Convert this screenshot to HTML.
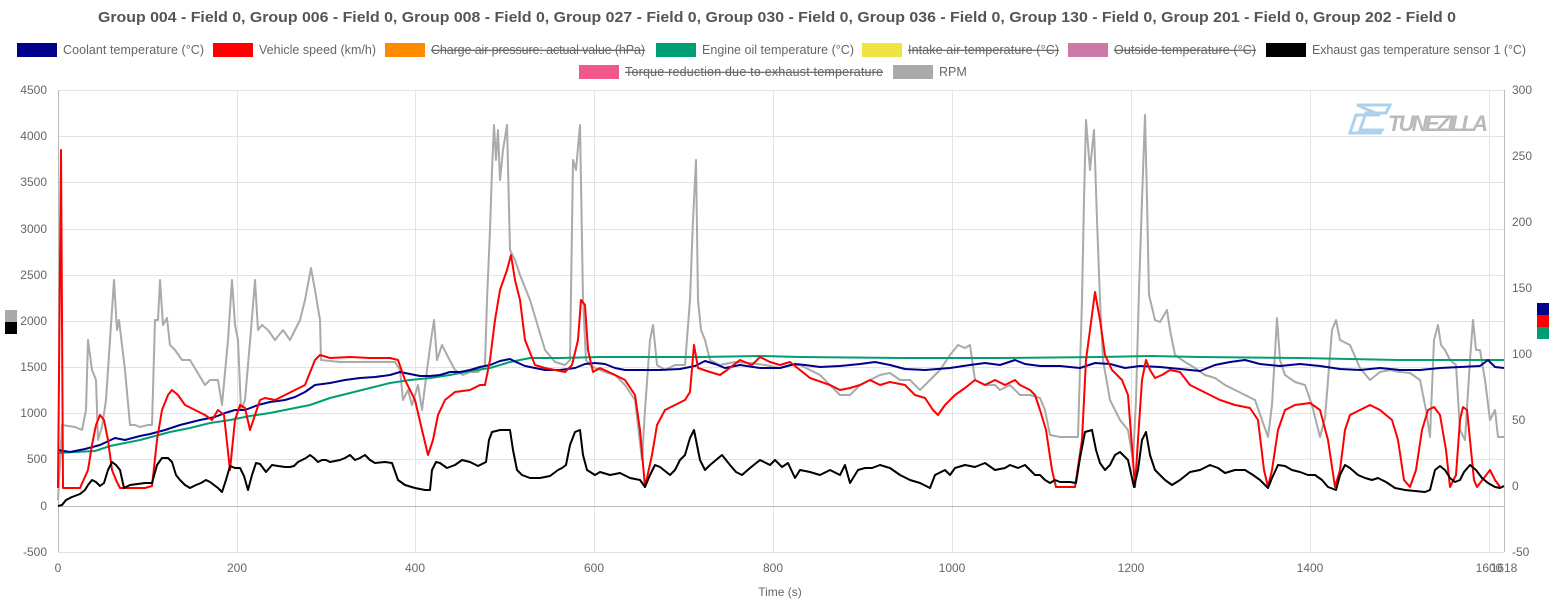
<!DOCTYPE html>
<html><head><meta charset="utf-8"><style>
body{margin:0;background:#fff;width:1554px;height:600px;overflow:hidden;font-family:"Liberation Sans",sans-serif}
</style></head><body>
<svg width="1554" height="600" xmlns="http://www.w3.org/2000/svg" font-family="Liberation Sans, sans-serif">
<text x="777" y="22" text-anchor="middle" font-size="15" font-weight="bold" fill="#555" textLength="1358" lengthAdjust="spacingAndGlyphs">Group 004 - Field 0, Group 006 - Field 0, Group 008 - Field 0, Group 027 - Field 0, Group 030 - Field 0, Group 036 - Field 0, Group 130 - Field 0, Group 201 - Field 0, Group 202 - Field 0</text>
<g font-size="12.5" fill="#666">
<rect x="17" y="43" width="40" height="14" fill="#00008b"/><text x="63" y="54" textLength="141">Coolant temperature (°C)</text>
<rect x="213" y="43" width="40" height="14" fill="#ff0000"/><text x="259" y="54" textLength="117">Vehicle speed (km/h)</text>
<rect x="385" y="43" width="40" height="14" fill="#ff8c00"/><text x="431" y="54" textLength="214" text-decoration="line-through">Charge air pressure: actual value (hPa)</text>
<rect x="656" y="43" width="40" height="14" fill="#009e73"/><text x="702" y="54" textLength="152">Engine oil temperature (°C)</text>
<rect x="862" y="43" width="40" height="14" fill="#f0e442"/><text x="908" y="54" textLength="151" text-decoration="line-through">Intake air temperature (°C)</text>
<rect x="1068" y="43" width="40" height="14" fill="#cc79a7"/><text x="1114" y="54" textLength="142" text-decoration="line-through">Outside temperature (°C)</text>
<rect x="1266" y="43" width="40" height="14" fill="#000"/><text x="1312" y="54" textLength="214">Exhaust gas temperature sensor 1 (°C)</text>
<rect x="579" y="65" width="40" height="14" fill="#f0578a"/><text x="625" y="76" textLength="258" text-decoration="line-through">Torque reduction due to exhaust temperature</text>
<rect x="893" y="65" width="40" height="14" fill="#aaa"/><text x="939" y="76">RPM</text>
</g>
<g stroke="#e3e3e3" stroke-width="1">
<line x1="58" y1="90.5" x2="1504" y2="90.5"/><line x1="58" y1="136.5" x2="1504" y2="136.5"/><line x1="58" y1="182.5" x2="1504" y2="182.5"/><line x1="58" y1="229.5" x2="1504" y2="229.5"/><line x1="58" y1="275.5" x2="1504" y2="275.5"/><line x1="58" y1="321.5" x2="1504" y2="321.5"/><line x1="58" y1="367.5" x2="1504" y2="367.5"/><line x1="58" y1="413.5" x2="1504" y2="413.5"/><line x1="58" y1="459.5" x2="1504" y2="459.5"/><line x1="58" y1="552.5" x2="1504" y2="552.5"/>
<line x1="237.5" y1="90" x2="237.5" y2="552"/><line x1="415.5" y1="90" x2="415.5" y2="552"/><line x1="594.5" y1="90" x2="594.5" y2="552"/><line x1="773.5" y1="90" x2="773.5" y2="552"/><line x1="952.5" y1="90" x2="952.5" y2="552"/><line x1="1131.5" y1="90" x2="1131.5" y2="552"/><line x1="1310.5" y1="90" x2="1310.5" y2="552"/><line x1="1489.5" y1="90" x2="1489.5" y2="552"/>
</g>
<line x1="58" y1="506.5" x2="1504" y2="506.5" stroke="#bbb"/>
<line x1="58.5" y1="90" x2="58.5" y2="552" stroke="#bbb"/><line x1="1504.5" y1="90" x2="1504.5" y2="552" stroke="#bbb"/>
<g font-size="12" fill="#666" text-anchor="end">
<text x="47" y="94">4500</text><text x="47" y="140">4000</text><text x="47" y="186">3500</text><text x="47" y="233">3000</text><text x="47" y="279">2500</text><text x="47" y="325">2000</text><text x="47" y="371">1500</text><text x="47" y="417">1000</text><text x="47" y="463">500</text><text x="47" y="510">0</text><text x="47" y="556">-500</text>
</g>
<g font-size="12" fill="#666">
<text x="1512" y="94">300</text><text x="1512" y="160">250</text><text x="1512" y="226">200</text><text x="1512" y="292">150</text><text x="1512" y="358">100</text><text x="1512" y="424">50</text><text x="1512" y="490">0</text><text x="1512" y="556">-50</text>
</g>
<g font-size="12" fill="#666" text-anchor="middle">
<text x="58" y="572">0</text><text x="237" y="572">200</text><text x="415" y="572">400</text><text x="594" y="572">600</text><text x="773" y="572">800</text><text x="952" y="572">1000</text><text x="1131" y="572">1200</text><text x="1310" y="572">1400</text><text x="1489" y="572">1600</text><text x="1504" y="572">1618</text>
<text x="780" y="596">Time (s)</text>
</g>
<rect x="5" y="310" width="12" height="12" fill="#aaa"/><rect x="5" y="322" width="12" height="12" fill="#000"/>
<rect x="1537" y="303" width="12" height="12" fill="#00008b"/><rect x="1537" y="315" width="12" height="12" fill="#f00"/><rect x="1537" y="327" width="12" height="12" fill="#009e73"/>
<g opacity="0.8">
<path d="M1357,105 H1390 L1386,113 H1366 L1360,130 H1382 L1380,133 H1350 L1356,115 H1380 Z" fill="none" stroke="#9cc8e8" stroke-width="3"/>
<text x="1388" y="131" font-size="22" font-weight="bold" font-style="italic" fill="#aaa" textLength="100">TUNEZILLA</text>
</g>
<g fill="none" stroke-width="2" stroke-linejoin="round">
<polyline stroke="#aaa" points="58,500 62,425 75,427 82,430 86,410 88,340 92,370 96,380 98,440 102,427 106,400 110,340 114,280 117,330 119,320 125,370 130,425 135,425 140,427 148,425 152,425 155,320 158,320 160,280 163,325 167,318 170,345 175,350 182,360 190,360 205,385 210,380 218,380 222,405 228,340 232,280 235,325 238,340 241,410 245,400 251,330 255,280 258,330 262,325 268,330 275,340 283,330 290,340 300,320 305,300 311,268 315,290 320,320 321,360 340,362 360,362 380,362 395,362 400,370 403,400 408,390 412,405 418,385 422,410 427,370 431,340 434,320 437,360 442,345 447,355 455,370 463,375 470,372 478,372 485,365 487,300 490,230 492,170 494,125 496,160 498,130 500,180 503,150 507,125 510,250 515,260 520,275 530,300 545,350 555,362 565,365 570,360 573,160 576,170 580,125 583,300 586,360 590,365 595,368 605,372 615,375 625,385 635,400 642,460 645,410 650,340 653,325 657,365 665,370 675,365 685,365 690,300 693,220 696,160 698,300 701,330 705,340 710,360 720,365 735,362 750,363 765,365 780,368 790,365 800,365 810,370 820,375 830,385 840,395 850,395 860,385 870,380 880,375 890,373 900,380 910,380 920,390 930,380 940,370 950,355 958,345 965,348 970,345 975,380 985,385 995,385 1000,390 1010,385 1020,395 1030,395 1040,398 1045,410 1050,435 1060,437 1070,437 1078,437 1082,300 1084,200 1086,120 1090,170 1094,130 1097,220 1100,300 1103,360 1110,400 1120,420 1128,430 1133,460 1136,400 1139,290 1142,200 1145,115 1147,200 1149,295 1155,320 1160,322 1167,310 1170,330 1175,355 1185,362 1195,368 1205,375 1215,378 1225,385 1235,390 1245,395 1255,400 1262,420 1268,437 1272,405 1277,318 1280,360 1285,375 1295,382 1305,385 1312,405 1320,437 1325,418 1332,330 1336,320 1340,340 1350,345 1360,368 1370,380 1380,372 1390,370 1400,372 1410,373 1420,380 1426,410 1430,437 1434,340 1438,325 1441,345 1445,350 1450,360 1456,365 1460,430 1465,440 1470,360 1473,320 1476,350 1480,350 1485,380 1490,420 1495,410 1498,437 1504,437"/>
<polyline stroke="#009e73" points="58,453 75,452 95,451 110,446 125,443 140,440 155,436 170,432 190,428 210,423 230,420 250,416 270,413 290,409 310,405 330,398 350,393 370,388 390,383 410,380 430,378 450,375 470,371 490,368 510,362 530,358 560,358 600,357 650,357 700,357 760,356 800,357 900,358 1000,358 1100,357 1150,356 1200,357 1300,358 1400,360 1504,360"/>
<polyline stroke="#00008b" points="58,450 70,452 85,449 100,445 115,438 125,440 140,436 150,434 165,430 180,425 200,420 215,417 225,413 235,410 245,410 258,405 270,402 285,400 295,397 305,392 315,385 330,383 345,380 360,378 375,377 390,375 400,372 410,374 420,376 430,376 440,375 450,372 460,372 470,370 480,367 490,365 500,361 510,359 516,362 525,366 535,368 545,370 560,370 575,368 585,364 595,363 605,364 615,368 625,370 640,370 660,370 680,369 695,366 705,361 715,364 725,368 740,365 760,368 780,368 795,364 805,365 820,367 840,366 860,364 875,362 890,365 905,369 925,370 950,368 970,365 985,363 1000,365 1015,360 1025,364 1040,366 1060,366 1080,368 1095,363 1110,364 1125,368 1140,366 1160,367 1180,369 1200,371 1215,365 1230,362 1245,360 1260,364 1280,366 1300,364 1320,366 1340,369 1360,370 1380,368 1400,370 1420,370 1440,368 1460,367 1480,366 1488,360 1495,367 1504,368"/>
<polyline stroke="#f00" points="58,488 61,150 63,488 80,488 88,470 92,445 96,425 100,415 104,420 108,440 112,470 116,480 120,488 145,488 152,486 157,440 162,410 168,395 172,390 178,395 185,405 195,410 205,415 212,420 218,410 224,415 230,470 235,420 240,405 245,408 250,430 255,415 260,400 265,398 275,400 285,395 295,390 305,385 315,360 320,355 330,358 350,357 370,358 390,358 398,360 405,380 415,400 422,430 428,455 433,440 438,415 445,400 455,392 470,390 480,385 485,385 490,360 495,320 500,290 507,270 511,255 515,280 520,300 525,340 535,365 545,368 555,370 565,372 572,365 578,340 581,300 585,305 588,350 593,372 600,368 615,375 625,380 635,395 640,430 645,487 652,455 657,425 665,410 675,405 685,400 690,392 694,345 698,368 710,372 720,375 727,370 740,360 752,365 760,357 770,362 780,365 790,362 800,370 810,378 830,385 840,390 850,388 860,385 870,380 880,385 890,382 905,385 915,395 925,398 933,410 938,415 945,405 955,395 965,388 975,380 985,385 995,380 1005,385 1015,380 1020,385 1030,390 1035,395 1040,410 1046,430 1052,470 1056,487 1075,487 1082,440 1086,360 1090,330 1095,292 1100,320 1105,355 1112,370 1122,380 1128,395 1133,460 1135,487 1138,440 1142,380 1146,360 1150,370 1155,378 1162,375 1170,370 1180,372 1190,385 1200,390 1210,395 1220,400 1235,405 1250,408 1258,420 1264,470 1268,487 1272,470 1278,430 1285,410 1295,405 1310,403 1320,410 1328,440 1335,487 1340,470 1345,430 1350,415 1360,410 1370,405 1380,410 1386,415 1392,420 1398,440 1404,480 1410,487 1416,470 1422,430 1428,410 1434,407 1440,415 1446,450 1450,487 1456,475 1460,420 1463,407 1467,410 1470,440 1474,480 1477,487 1490,470 1495,480 1500,487"/>
<polyline stroke="#000" points="58,506 62,505 66,500 72,497 80,494 85,490 88,485 92,480 96,482 100,486 104,483 108,470 112,462 116,465 120,470 124,488 130,485 145,483 152,483 157,465 162,458 168,458 172,462 176,475 180,480 185,485 190,488 196,485 201,483 206,480 210,482 214,485 218,488 222,492 226,480 230,466 235,468 240,468 244,476 248,490 252,475 256,463 260,464 266,472 272,465 278,466 285,467 290,467 294,466 298,462 302,460 306,458 310,455 314,458 318,462 322,460 326,460 330,462 340,460 345,458 350,455 355,460 360,458 365,455 370,460 375,463 385,462 392,463 398,480 405,485 415,488 425,490 430,490 432,470 436,462 440,463 447,468 455,465 462,460 470,462 478,466 486,462 489,440 492,432 500,430 510,430 513,450 517,470 522,475 530,478 540,478 550,476 558,470 562,468 566,465 570,445 575,432 580,430 583,455 587,470 595,475 600,472 610,475 620,473 630,478 640,480 645,487 650,475 655,465 660,467 670,475 675,470 680,460 685,455 690,438 694,430 697,445 700,460 705,470 710,465 716,460 722,455 730,465 736,472 742,475 750,468 760,460 770,465 775,460 782,467 788,463 795,478 800,470 810,472 820,475 830,470 840,475 845,465 850,483 858,470 865,468 872,468 880,465 890,468 900,475 910,480 920,483 930,488 935,475 945,470 950,475 955,468 965,465 975,467 985,463 995,470 1005,468 1010,465 1018,468 1025,465 1030,470 1035,475 1040,475 1045,480 1050,483 1055,480 1060,482 1070,482 1076,483 1080,458 1085,432 1092,430 1096,450 1100,463 1105,470 1110,465 1115,455 1120,452 1128,460 1134,487 1138,470 1142,440 1146,432 1150,455 1155,470 1160,475 1165,480 1172,485 1180,480 1190,472 1200,470 1210,465 1218,468 1225,473 1235,470 1245,470 1253,475 1260,480 1268,488 1272,478 1278,465 1285,466 1292,470 1300,472 1308,475 1315,475 1322,480 1328,487 1336,490 1340,475 1345,465 1350,468 1358,475 1365,478 1372,480 1378,478 1386,482 1395,488 1405,490 1415,491 1425,492 1430,490 1435,470 1440,466 1445,470 1450,478 1455,482 1460,480 1464,472 1470,465 1476,470 1482,478 1488,483 1495,487 1500,488 1504,486"/>
</g>
</svg>
</body></html>
